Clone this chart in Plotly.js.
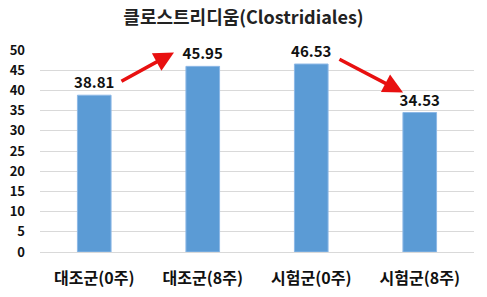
<!DOCTYPE html>
<html><head><meta charset="utf-8">
<script src="https://cdn.plot.ly/plotly-3.0.1.min.js"></script>
<style>html,body{margin:0;padding:0;background:#fff;}#chart{width:487px;height:297px;}</style>
</head><body><div id="chart"></div>
<script>
const categories = ['대조군(0주)', '대조군(8주)', '시험군(0주)', '시험군(8주)'];
const values = [38.81, 45.95, 46.53, 34.53];
const labels = ['38.81', '45.95', '46.53', '34.53'];
const yTicks = [0,5,10,15,20,25,30,35,40,45,50];

const font = '"Noto Sans CJK KR", "Noto Sans", sans-serif';
const trace = {
  type: 'bar', x: categories, y: values,
  text: labels, textposition: 'outside', cliponaxis: false, constraintext: 'none',
  textfont: {family: font, size: 15, color: '#111', weight: 'bold'},
  marker: {color: '#5b9bd5', line: {color: '#8db8e6', width: 1}},
  width: 0.31, hoverinfo: 'none'
};
const arrowStyle = {xref:'x', yref:'y', axref:'x', ayref:'y', text:'', showarrow:true,
  arrowhead:2, arrowsize:1.1, arrowwidth:3.6, arrowcolor:'#e81010'};
const layout = {
  width: 487, height: 297,
  margin: {l: 40, r: 13, t: 50, b: 45},
  paper_bgcolor: '#fff', plot_bgcolor: '#fff',
  showlegend: false,
  title: {text: '클로스트리디움(Clostridiales)', x: 0.5, xanchor: 'center', y: 0.94, yanchor: 'middle',
    font: {family: font, size: 18, color: '#222', weight: 'bold'}},
  xaxis: {type: 'category', tickfont: {family: font, size: 16, color: '#111', weight: 'bold'},
    showgrid: false, showline: true, linecolor: '#d9d9d9', ticks: '', ticklen: 0, ticklabelstandoff: 12},
  yaxis: {range: [0, 50], tickvals: yTicks, ticktext: yTicks.map(String),
    tickfont: {family: font, size: 13, color: '#111', weight: 'bold'},
    showgrid: true, gridcolor: '#d9d9d9', gridwidth: 1, zeroline: false, ticks: '', ticklabelstandoff: 14},
  bargap: 0.69,
  annotations: [
    Object.assign({x: 0.735, y: 49.4, ax: 0.237, ay: 42.05}, arrowStyle),
    Object.assign({x: 2.846, y: 39.5, ax: 2.246, ay: 47.9}, arrowStyle)
  ]
};
Plotly.newPlot('chart', [trace], layout, {displayModeBar: false, staticPlot: true});
</script></body></html>
